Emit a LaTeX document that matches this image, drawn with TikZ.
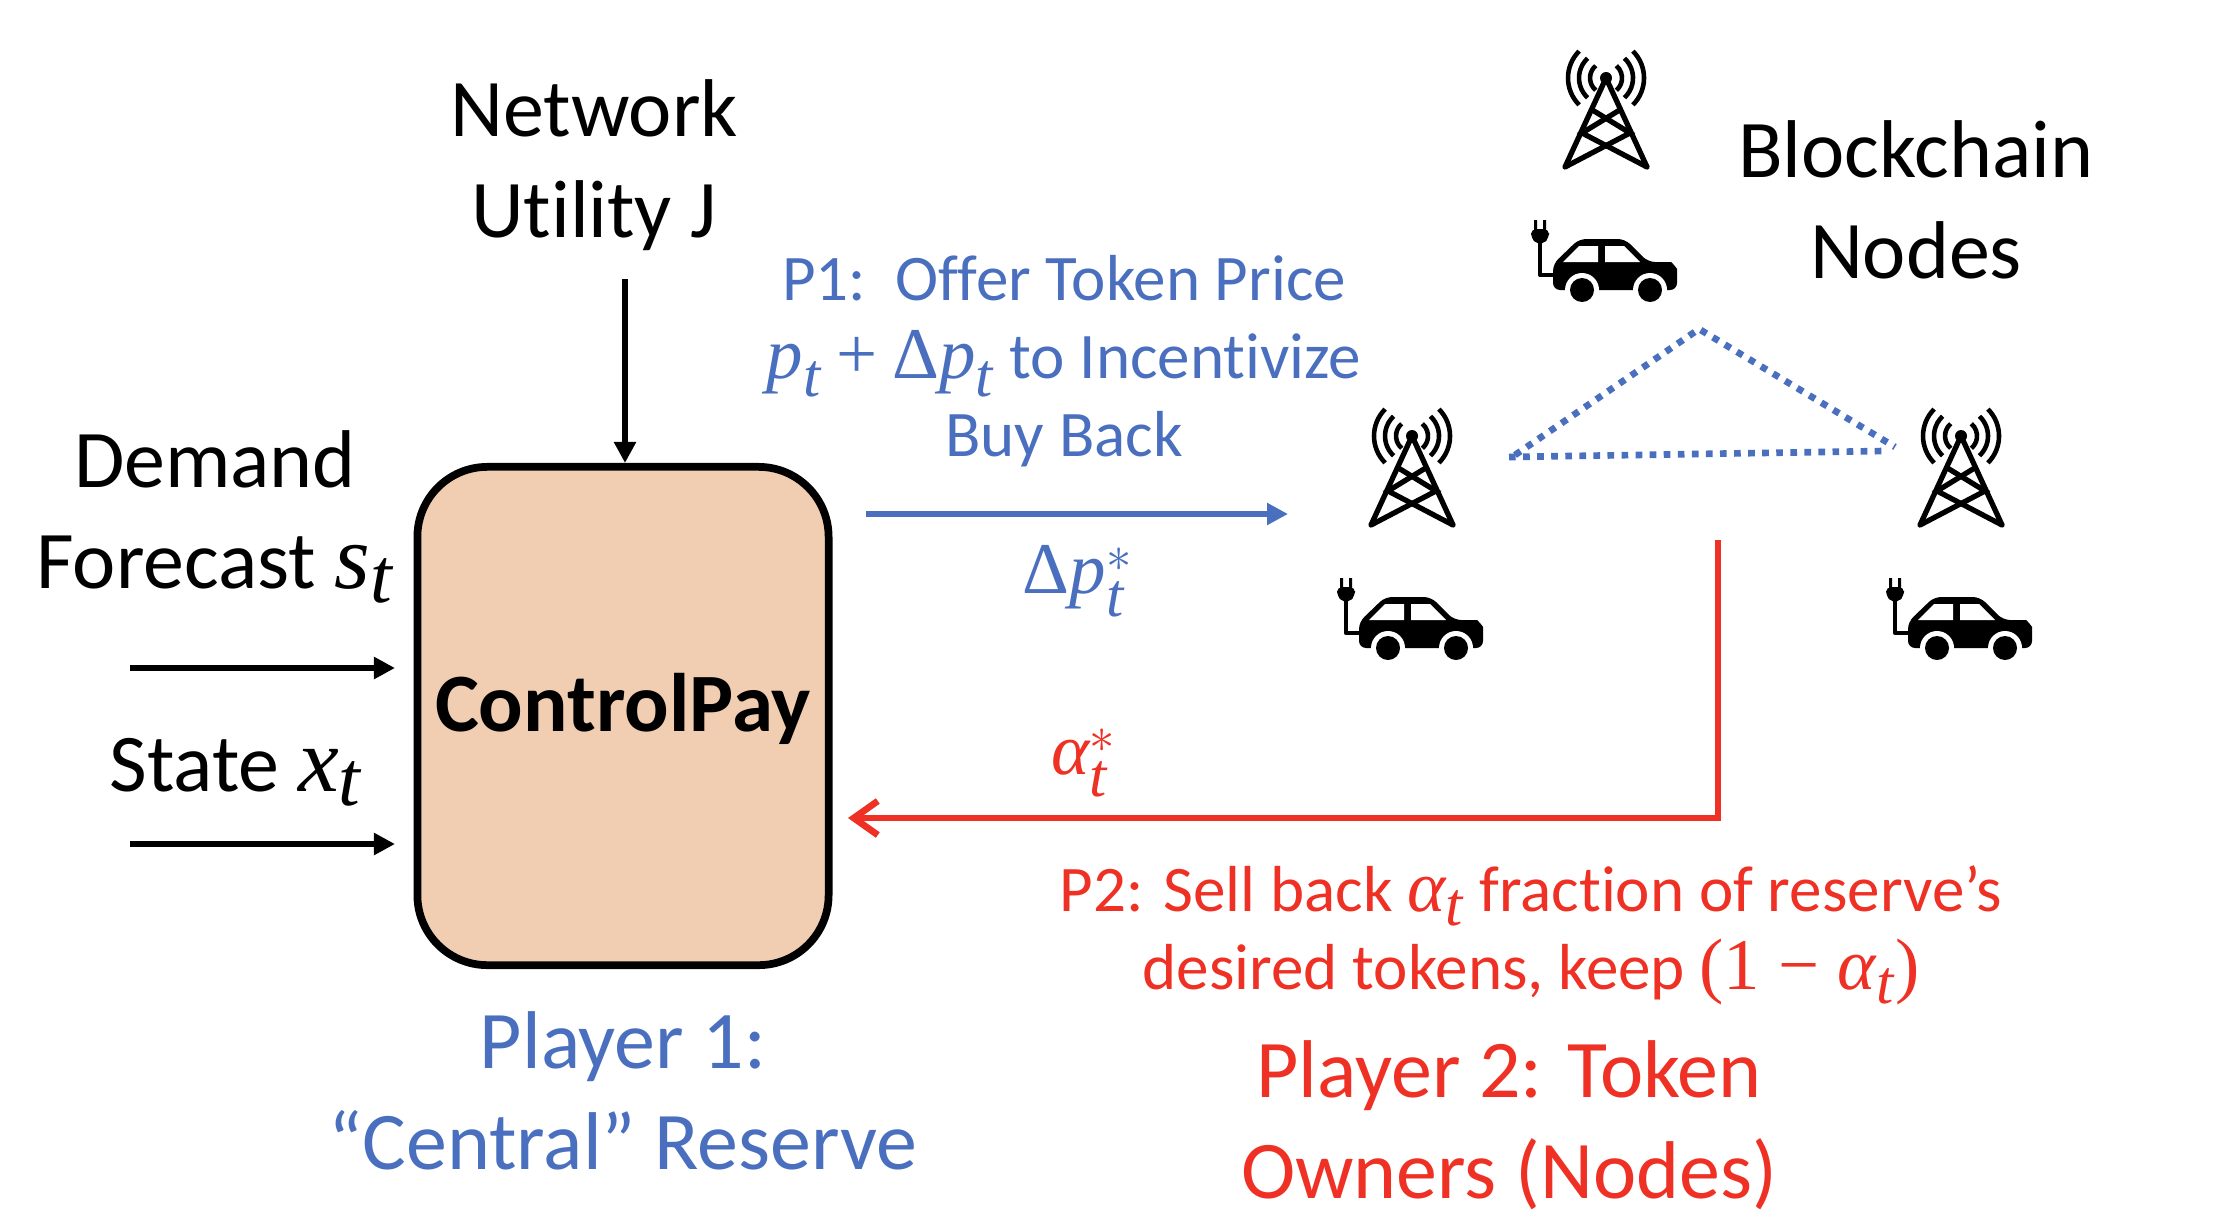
\documentclass[tikz,border=0pt]{standalone}
\usepackage{amsmath}
\usepackage{fontspec}
\setmainfont[Ligatures=NoCommon]{Carlito}
\newfontfamily\varfam[Scale=1.12]{Liberation Serif}
\renewcommand{\defaultscriptratio}{.85}
\newcommand{\mv}[1]{\text{\varfam\itshape #1}}
\newcommand{\mr}[1]{\text{\varfam #1}}
\usepackage{tikz}
\usetikzlibrary{positioning}
\usetikzlibrary{arrows.meta}

\definecolor{resblue}{HTML}{4A6FBF}
\definecolor{ownred}{HTML}{EE3124}
\definecolor{boxfill}{HTML}{F1CEB1}

\tikzset{
    bigtxt/.style={align=center,font=\fontsize{23.3}{28.7}\selectfont,inner sep=0pt},
    smalltxt/.style={align=center,font=\fontsize{18.5}{22.2}\selectfont,inner sep=0pt},
    inarrow/.style={line width=1.9pt,-{Triangle[length=2.1mm,width=2.1mm]}},
    link/.style={resblue,line width=1.9pt,dash pattern=on 1.9pt off 2.1pt},
    chainnode/.pic={
        % tower
        \fill (0,0) circle (6);
        \foreach \r/\a in {16/50,27/47,38/45} {
            \draw[line width=1.3pt] (-\a:\r) arc[start angle=-\a,end angle=\a,radius=\r];
            \draw[line width=1.3pt] (180-\a:\r) arc[start angle=180-\a,end angle=180+\a,radius=\r];
        }
        \draw[line width=1.5pt,line join=round] (-41,89) -- (0,0) -- (41,89);
        \draw[line width=1.5pt,line cap=round] (-41,89) -- (24,55) -- (-12,33);
        \draw[line width=1.5pt,line cap=round] (41,89) -- (-24,55) -- (12,33);
        % car with plug
        \draw[line width=1.2pt,line join=round] (-66,160) |- (-50,197);
        \fill (-72,142) rectangle (-69,154) (-63,142) rectangle (-60,154);
        \fill[rounded corners=1.5pt] (-75,151) -- (-57,151) -- (-57,160) -- (-63,166) -- (-69,166) -- (-75,160) -- cycle;
        \fill[rounded corners=2pt] (-53,186) -- (-27,161) -- (19,161) -- (42,184) -- (58,184)
            to[out=0,in=90] (71,198) -- (71,212) -- (-53,212) -- cycle;
        \fill[white] (-43,184) -- (-27,168) -- (-8,168) -- (-8,184) -- cycle;
        \fill[white] (-1,168) -- (18,168) -- (34,184) -- (-1,184) -- cycle;
        \fill[white] (-24,212) circle (17) (44,212) circle (17);
        \fill (-24,212) circle (12) (44,212) circle (12);
    }
}

\begin{document}
\begin{tikzpicture}[x=0.01cm,y=-0.01cm]
    \useasboundingbox (0,0) rectangle (2222,1230);

    \node(ctrl) [draw,line width=2.2pt,fill=boxfill,rounded corners=0.7cm,minimum width=4.11cm,minimum height=4.98cm,
        font=\fontsize{23.6}{28}\selectfont\bfseries] at (623,716) {\raisebox{2pt}[\height][\depth]{ControlPay}};

    \node(netutil) [bigtxt] at (594,165) {Network\\Utility J};
    \node(forecast) [bigtxt] at (215,517) {Demand\\Forecast $\mv{s}_{\mv{t}}$};
    \node(state) [bigtxt] at (236,772) {State $\mv{x}_{\mv{t}}$};
    \node(bcnodes) [bigtxt] at (1916,200) {Blockchain\\Nodes};

    \node(offer) [smalltxt,text=resblue] at (1064,361) {P1:\ \ Offer Token Price\\$\mv{p}_{\mv{t}}$ \mr{+} \mr{Δ}$\mv{p}_{\mv{t}}$ to Incentivize\\Buy Back};
    \node(dpstar) [smalltxt,text=resblue] at (1078,581) {\mr{Δ}$\mv{p}_{\mv{t}}^{*}$};
    \node(astar) [smalltxt,text=ownred] at (1084,763) {$\mv{α}_{\mv{t}}^{*}$};
    \node(sell) [smalltxt,text=ownred] at (1531,935) {P2: Sell back $\mv{α}_{\mv{t}}$ fraction of reserve’s\\desired tokens, keep \mr{(1 − }$\mv{α}_{\mv{t}}$\mr{)}};

    \node(pl1) [bigtxt,text=resblue] at (623,1091) {Player 1:\\“Central” Reserve};
    \node(pl2) [bigtxt,text=ownred] at (1509,1125) {Player 2: Token\\Owners (Nodes)};

    \pic(top) at (1606,78) {chainnode};
    \pic(lft) at (1412,436) {chainnode};
    \pic(rgt) at (1961,436) {chainnode};

    \coordinate(utilin) at (625,279);
    \coordinate(demin) at (130,668);
    \coordinate(demout) at (395,668);
    \coordinate(statein) at (130,844);
    \coordinate(stateout) at (395,844);
    \coordinate(offerin) at (866,514);
    \coordinate(offerout) at (1288,514);
    \coordinate(redin) at (1718,540);
    \coordinate(redbend) at (1718,818);
    \coordinate(redout) at (848,818);
    \coordinate(lkl) at (1509,457);
    \coordinate(lkl2) at (1515,455);
    \coordinate(lkr) at (1885,451);
    \coordinate(lkr2) at (1895,447);
    \coordinate(lka) at (1699,329);

    \draw[inarrow] (utilin) -- (utilin |- ctrl.north);
    \draw[inarrow] (demin) -- (demout);
    \draw[inarrow] (statein) -- (stateout);
    \draw[resblue,line width=1.9pt,-{Triangle[length=2.1mm,width=2.1mm]}] (offerin) -- (offerout);
    \draw[ownred,line width=1.9pt,-{Straight Barb[length=2.4mm,width=3.4mm]}] (redin) -- (redbend) -- (redout);
    \draw[link] (lkl) -- (lkr);
    \draw[link] (lkl2) -- (lka) -- (lkr2);
\end{tikzpicture}
\end{document}
